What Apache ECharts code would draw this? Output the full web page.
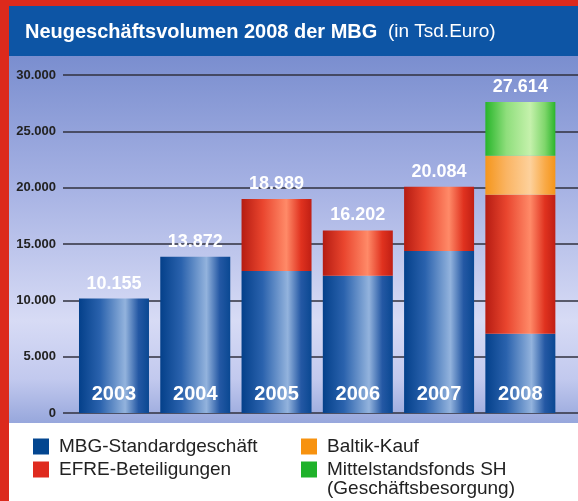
<!DOCTYPE html>
<html>
<head>
<meta charset="utf-8">
<script src="https://cdn.jsdelivr.net/npm/echarts@6/dist/echarts.min.js"></script>
<style>
  html, body { margin: 0; padding: 0; background: #fff; }
  #chart { width: 578px; height: 501px; }
</style>
</head>
<body>
<div id="chart"></div>
<script>
// Daten (Tsd. Euro)
var years = ['2003', '2004', '2005', '2006', '2007', '2008'];
var mbgStandard = [10155, 13872, 12603, 12190, 14380, 7040];
var efre = [0, 0, 6386, 4012, 5704, 12340];
var baltik = [0, 0, 0, 0, 0, 3460];
var mittelstand = [0, 0, 0, 0, 0, 4774];
var totals = [10155, 13872, 18989, 16202, 20084, 27614];
var yTicks = [0, 5000, 10000, 15000, 20000, 25000, 30000];

var FONT = "'Liberation Sans', Arial, sans-serif";

function fmt(n) {
    return String(n).replace(/\B(?=(\d{3})+(?!\d))/g, '.');
}

function grad(stops) {
    return new echarts.graphic.LinearGradient(0, 0, 1, 0, stops);
}

var blueGrad = grad([
    { offset: 0, color: '#04408a' },
    { offset: 0.3, color: '#2a62ad' },
    { offset: 0.66, color: '#93b3dd' },
    { offset: 0.85, color: '#2458a4' },
    { offset: 1, color: '#0a4892' }
]);
var redGrad = grad([
    { offset: 0, color: '#b51c12' },
    { offset: 0.3, color: '#e9452e' },
    { offset: 0.64, color: '#ff8a68' },
    { offset: 0.85, color: '#e0321f' },
    { offset: 1, color: '#c01f14' }
]);
var orangeGrad = grad([
    { offset: 0, color: '#f5961c' },
    { offset: 0.3, color: '#fab463' },
    { offset: 0.64, color: '#fdd19c' },
    { offset: 0.85, color: '#f9aa48' },
    { offset: 1, color: '#f4951a' }
]);
var greenGrad = grad([
    { offset: 0, color: '#27b52a' },
    { offset: 0.3, color: '#8fde7c' },
    { offset: 0.64, color: '#c5f1ac' },
    { offset: 0.85, color: '#7fd66b' },
    { offset: 1, color: '#2bb52b' }
]);

var myChart = echarts.init(document.getElementById('chart'));

var option = {
    animation: false,
    graphic: [
        { type: 'rect', z: -10, shape: { x: 0, y: 0, width: 578, height: 6 }, style: { fill: '#dc2a1c' } },
        { type: 'rect', z: -10, shape: { x: 0, y: 0, width: 9, height: 501 }, style: { fill: '#dc2a1c' } },
        { type: 'rect', z: -10, shape: { x: 9, y: 6, width: 569, height: 50 }, style: { fill: '#0d55a5' } },
        {
            type: 'rect', z: -10,
            shape: { x: 9, y: 56, width: 569, height: 367 },
            style: {
                fill: new echarts.graphic.LinearGradient(0, 0, 0, 1, [
                    { offset: 0, color: '#7a8ecf' },
                    { offset: 0.35, color: '#a5b1e3' },
                    { offset: 0.72, color: '#d7dbf5' },
                    { offset: 0.88, color: '#c2c9ee' },
                    { offset: 1, color: '#97a7dc' }
                ])
            }
        },
        {
            type: 'text', left: 327, top: 479,
            style: { text: '(Geschäftsbesorgung)', fontSize: 19, fontFamily: FONT, fill: '#222' }
        }
    ],
    title: {
        left: 25,
        top: 20,
        padding: 0,
        text: '{b|Neugeschäftsvolumen 2008 der MBG}{n|  (in Tsd.Euro)}',
        textStyle: {
            rich: {
                b: { fontSize: 20, fontWeight: 'bold', color: '#fff', fontFamily: FONT, lineHeight: 24 },
                n: { fontSize: 19, fontWeight: 'normal', color: '#fff', fontFamily: FONT, lineHeight: 24 }
            }
        }
    },
    legend: [
        {
            orient: 'vertical', left: 33, top: 437, padding: 0,
            itemWidth: 16, itemHeight: 16, itemGap: 4, icon: 'rect',
            textStyle: { fontSize: 19, fontFamily: FONT, color: '#222', lineHeight: 16, padding: [0, 0, 0, 5] },
            data: [
                { name: 'MBG-Standardgeschäft', itemStyle: { color: '#034690' } },
                { name: 'EFRE-Beteiligungen', itemStyle: { color: '#df2b1f' } }
            ]
        },
        {
            orient: 'vertical', left: 301, top: 437, padding: 0,
            itemWidth: 16, itemHeight: 16, itemGap: 4, icon: 'rect',
            textStyle: { fontSize: 19, fontFamily: FONT, color: '#222', lineHeight: 16, padding: [0, 0, 0, 5] },
            data: [
                { name: 'Baltik-Kauf', itemStyle: { color: '#f7920f' } },
                { name: 'Mittelstandsfonds SH', itemStyle: { color: '#1fb22a' } }
            ]
        }
    ],
    grid: [
        { left: 63, right: 0, top: 75, bottom: 88 },
        { left: 73.35, right: 17, top: 75, bottom: 88 }
    ],
    xAxis: [
        { gridIndex: 0, type: 'category', data: years, show: false },
        {
            gridIndex: 1, type: 'category', data: years,
            axisLine: { show: false }, axisTick: { show: false }, axisLabel: { show: false }
        }
    ],
    yAxis: [
        {
            gridIndex: 0, type: 'value', min: 0, max: 30000, interval: 5000,
            axisLine: { show: false }, axisTick: { show: false },
            axisLabel: {
                margin: 7, fontSize: 13, fontWeight: 'bold', color: '#222', fontFamily: FONT,
                formatter: function (v) { return fmt(v); }
            },
            splitLine: { lineStyle: { color: '#30303e', width: 1.5 } }
        },
        {
            gridIndex: 1, type: 'value', min: 0, max: 30000, interval: 5000, show: false,
            splitLine: { show: false }
        }
    ],
    series: [
        {
            name: 'Summe', type: 'bar', xAxisIndex: 1, yAxisIndex: 1,
            data: totals, barWidth: 70, barGap: '-100%', silent: true,
            itemStyle: { color: 'rgba(0,0,0,0)' },
            label: {
                show: true, position: 'top', distance: 6,
                fontSize: 18, fontWeight: 'bold', color: '#fff', fontFamily: FONT,
                formatter: function (p) { return fmt(p.value); }
            }
        },
        {
            name: 'MBG-Standardgeschäft', type: 'bar', stack: 'vol', xAxisIndex: 1, yAxisIndex: 1,
            data: mbgStandard, barWidth: 70, barGap: '-100%',
            itemStyle: { color: blueGrad },
            label: {
                show: true, position: 'insideBottom', distance: 9,
                fontSize: 20, fontWeight: 'bold', color: '#fff', fontFamily: FONT,
                formatter: function (p) { return p.name; }
            }
        },
        {
            name: 'EFRE-Beteiligungen', type: 'bar', stack: 'vol', xAxisIndex: 1, yAxisIndex: 1,
            data: efre, barWidth: 70, barGap: '-100%',
            itemStyle: { color: redGrad }
        },
        {
            name: 'Baltik-Kauf', type: 'bar', stack: 'vol', xAxisIndex: 1, yAxisIndex: 1,
            data: baltik, barWidth: 70, barGap: '-100%',
            itemStyle: { color: orangeGrad }
        },
        {
            name: 'Mittelstandsfonds SH', type: 'bar', stack: 'vol', xAxisIndex: 1, yAxisIndex: 1,
            data: mittelstand, barWidth: 70, barGap: '-100%',
            itemStyle: { color: greenGrad }
        }
    ]
};

myChart.setOption(option);
</script>
</body>
</html>
